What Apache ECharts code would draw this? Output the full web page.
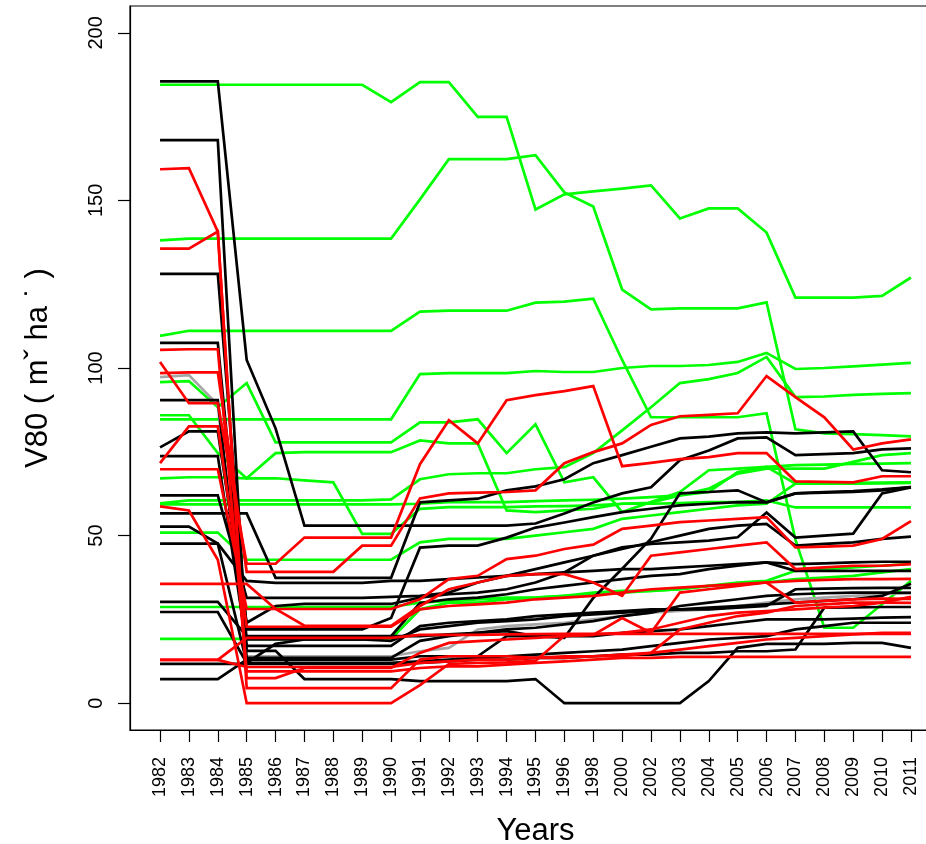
<!DOCTYPE html>
<html>
<head>
<meta charset="utf-8">
<script src="https://cdn.jsdelivr.net/npm/echarts@6/dist/echarts.min.js"></script>
<style>
  html, body { margin: 0; padding: 0; background: #fff; }
  #chart { width: 926px; height: 844px; }
</style>
</head>
<body>
<div id="chart"></div>
<script>
// Survey years (unequally spaced, plotted at equal steps)
const years = ['1982','1983','1984','1985','1986','1987','1988','1989','1990','1991','1992','1993','1994','1995','1996','1998','2000','2002','2003','2004','2005','2006','2007','2008','2009','2010','2011'];
const yTicks = [0, 50, 100, 150, 200];

// Plots without harvest (green)
const green01 = [184.5,184.5,184.5,184.5,184.5,184.5,184.5,184.5,179.3,185.3,185.3,174.9,174.9,147.3,151.8,152.7,153.5,154.5,144.6,147.6,147.6,140.4,121,121,121,121.5,127];
const green02 = [138.1,138.6,138.6,138.6,138.6,138.6,138.6,138.6,138.6,150.3,162.3,162.3,162.3,163.5,152.4,148.2,123.4,117.5,117.8,117.8,117.8,119.6,81.7,80.5,80.3,80,79.6];
const green03 = [109.6,111.1,111.1,111.1,111.1,111.1,111.1,111.1,111.1,116.8,117.1,117.1,117.1,119.5,119.8,120.7,102.4,85.3,85.3,85.3,85.3,86.5,48.8,22.5,22.5,29.5,36.5];
const green04 = [84.7,84.7,84.7,84.7,84.7,84.7,84.7,84.7,84.7,98.2,98.5,98.5,98.5,99.1,98.8,98.8,100,100.6,100.6,100.9,101.8,104.5,99.7,100,100.5,101,101.5];
const green05 = [67.1,67.4,67.4,67.1,67.1,66.5,65.9,50.5,50.5,58,58.5,58.5,58.5,58.7,58.8,59,59.5,59.5,59.7,60,60,60.5,58.4,58.4,58.4,58.4,58.4];
const green06 = [85.9,85.9,74.6,67.1,74.6,74.9,74.9,74.9,74.9,78.4,77.5,77.5,57.5,57,57.5,58,59.5,59.8,62,63,69,70.5,65.5,65.6,65.7,65.8,65.9];
const green07 = [95.8,96.1,88.3,95.5,77.8,77.8,77.8,77.8,77.8,83.8,83.8,84.7,74.6,83.2,65.9,67.4,57,60,63,69.5,70,70.5,71,71.2,71.4,71.5,71.6];
const green08 = [59.6,60.5,60.5,60.5,60.5,60.5,60.5,60.5,60.8,66.8,68.3,68.6,68.6,69.8,70.4,74.6,81.4,88.3,95.5,96.7,98.5,103.3,91.3,91.5,92,92.3,92.5];
const green09 = [59.3,59.3,59.3,59.3,59.3,59.3,59.3,59.3,59.3,59.5,60,60,60,60.3,60.5,60.7,61,61.5,62,64,68.5,70,70,70,72,74,74.6];
const green10 = [50.9,50.9,50.9,42.8,42.8,42.8,42.8,42.8,42.8,48,49,49,49,50,51,52,55,56,57,58,59,59.5,65.5,65.5,65.5,65.6,65.7];
const green11 = [28.7,28.7,28.7,28.7,28.7,28.7,28.7,28.7,28.7,30,30.5,31,31.5,31.5,32,33,33.5,33.5,34,35,36,36.5,39.5,40,40.5,41,41.6];
const green12 = [19.2,19.2,19.2,19.2,19.2,19.2,19.2,19.2,19.2,28,30,30,31,31.5,32,32.5,33,33.5,34,35,35.5,36,37,37.5,38,39,40];

// Reference plot (grey)
const grey01 = [97.3,97.9,89,14,14,14,14,14,14,15.5,16.5,22,23,23.5,24,25,26,27,27.5,28,29,30,31,31.5,32,32.5,33];

// Plots with harvest (black)
const black01 = [185.5,185.5,185.5,102.4,82,53,53,53,53,53,53,53,53,53.6,56.6,59.9,62.6,64.4,72.5,75.4,79,79.3,74,74.3,74.6,75.7,76];
const black02 = [168,168,168,15.6,15.6,7.2,7.2,7.2,7.2,6.6,6.6,6.6,6.6,7.2,0,0,0,0,0,6.6,16.5,17.7,17.7,17.7,18,18,16.5];
const black03 = [128.1,128.1,128.1,22,22,22,22,22,25.4,46.4,47,47,49.4,52.4,53.9,55.5,57,58,59,59.5,60,59.9,62.6,63,63.3,63.8,64.5];
const black04 = [107.5,107.5,107.5,19,19,19,19,19,20,29.9,31,31.5,32.5,34,35,36,37,38,38.5,40,41,42,41.5,41.7,42,42.2,42.2];
const black05 = [90.4,90.4,90.4,13.5,13.5,13.5,13.5,13.5,13.5,18.6,20,21,22,22.5,23.5,24.5,26,27,29,30,31,32,32.5,32.8,33,33,32.9];
const black06 = [76.3,81.1,81.1,24,29,29.6,29.6,29.6,29.6,31.5,32.5,33,34,36,39,44,46.5,47.5,48,48.5,49.5,56.9,49.4,50,50.6,62.6,64.4];
const black07 = [73.7,73.7,73.7,17.1,17.1,17.1,17.1,17.1,17.1,23,24,24.5,25,26,26.5,27,27.5,28,28,28.5,29,29.5,30,30.5,31,32,35.6];
const black08 = [62,62,62,31.4,31.4,31.4,31.4,31.4,31.7,32,33,36,38,40,42,44,46,48,50,52,53,53.5,47,47.5,48,49,49.7];
const black09 = [56.6,56.6,56.6,56.6,37.4,37.4,37.4,37.4,37.4,59.9,60.5,61,63.5,64.7,66.8,71.6,74,76.5,79,79.5,80.5,80.8,80.5,80.8,81.1,69.5,68.9];
const black10 = [52.7,52.7,47.6,36.5,35.9,35.9,35.9,35.9,36.5,36.5,37,37.5,38,38.5,39,39.5,40,40,40.5,41,41.5,42,39.5,39.5,39.5,39.5,39.5];
const black11 = [47.6,47.6,47.6,12,12,12,12,12,12,12.5,13,13.5,14,14.5,15,15.5,16,17,18,19,19.5,20,22,23,24,24,24];
const black12 = [30.2,30.2,30.2,20,20,20,20,20,20,20,20.5,21,21.5,20,20,20,21,21.5,22,23,24,25,25,25,25.2,25.5,25.7];
const black13 = [27.2,27.2,27.2,12,17.7,19,19,19,18.6,22,23,24,24.5,25,26,26.5,27,27.5,28,28,28.5,29,34,34.2,34.3,34.4,34.4];
const black14 = [11.7,11.7,11.7,11.7,11.7,11.7,11.7,11.7,11.7,12,12.5,13,13,13.5,13.5,14,14.5,14.5,15,15,15.5,15.5,16,28.5,28.6,28.7,28.7];
const black15 = [7.2,7.2,7.2,13,13,13,13,13,13,14,14,14,20,20,19.5,31.4,40.1,49.1,62.6,63,63.5,59.9,62.6,62.8,63,63.5,64.5];

// Plots with harvest (red)
const red01 = [159.3,159.6,140.7,7.5,7.5,10.5,10.5,10.5,10.5,15,18,18.5,19,19.5,20,20.5,21,22,24,26,27,27.5,28,28.5,29,30,31.7];
const red02 = [135.6,135.6,140.7,4.5,4.5,4.5,4.5,4.5,4.5,13,14,14,14,13.5,14,14,14.5,15,22,24,26,27,29,29.5,30,30,29.9];
const red03 = [105.4,105.6,105.6,9.5,9.5,9.5,9.5,9.5,9.5,10.5,11,11,11.5,12,12.5,13,13.5,13.5,13.8,13.8,13.8,13.8,13.8,13.8,13.8,13.8,13.8];
const red04 = [101.8,89.5,89.5,41.6,41.6,49.4,49.4,49.4,49.4,71.3,84.4,77.5,90.4,91.9,93.1,94.6,70.7,71.7,72.8,73.4,74.6,74.6,66.2,66,65.9,67.7,67.7];
const red05 = [98.5,98.7,98.7,39.2,39.2,39.2,39.2,47,47,61.1,62.6,62.8,63,63.5,71.6,74.9,77.5,83,85.6,86,86.5,97.6,91.3,85.3,75.7,77.5,78.7];
const red06 = [71.6,82.6,82.6,22.8,22.8,22.8,22.8,22.8,22.8,28,29,29.5,30,31,31.5,32,33,34,34.5,35,35.5,36,30,30.5,31,31.2,31.1];
const red07 = [69.8,69.8,69.8,28.1,28.1,28.1,28.1,28.1,28.1,31,37,38,43,44,46,47.3,52,53,54,54.5,55,55.5,46.5,46.7,47,49,54.3];
const red08 = [58.7,57.5,42.8,0,0,0,0,0,0,5.4,11.7,12,12.2,12.6,20.1,20.4,25.4,21,33,34,35,36,36.5,36.8,37,37,37.1];
const red09 = [35.6,35.6,35.6,35.6,28.1,23.1,23.1,23.1,23.1,29,34,36,38,38.5,38.5,36,32,44,45,46,47,48,40,40.5,41,41,41.5];
const red10 = [12.9,12.9,12.9,19.5,19.5,19.5,19.5,19.5,19.5,20.4,20.4,20.4,20.5,20.6,20.7,20.7,20.7,20.7,20.7,20.7,20.7,20.7,20.7,20.7,20.7,20.7,20.7];
const red11 = [12.9,12.9,12.9,10.8,10.8,10.8,10.8,10.8,10.8,12,12.5,13,13,13.5,13.5,14,14,15,16,17,18,19,19.5,20,20.5,21,21];

const greenLines = [green01, green02, green03, green04, green05, green06, green07, green08, green09, green10, green11, green12];
const greyLines = [grey01];
const blackLines = [black01, black02, black03, black04, black05, black06, black07, black08, black09, black10, black11, black12, black13, black14, black15];
const redLines = [red01, red02, red03, red04, red05, red06, red07, red08, red09, red10, red11];

const FONT = 'Liberation Sans, Arial, Helvetica, sans-serif';
const xIdx = years.map((_, i) => i);

function makeSeries(lines, color) {
  return lines.map(vals => ({
    type: 'line',
    data: vals.map((v, i) => [i, v]),
    showSymbol: false,
    symbol: 'none',
    silent: true,
    lineStyle: { color: color, width: 2.7, join: 'miter' },
    itemStyle: { color: color },
    animation: false
  }));
}

const chart = echarts.init(document.getElementById('chart'), null, { renderer: 'canvas' });
chart.setOption({
  backgroundColor: '#ffffff',
  animation: false,
  grid: {
    left: 130, width: 811, top: 6, height: 724,
    outerBoundsMode: 'none',
    containLabel: false,
    show: true, borderColor: '#000', borderWidth: 1.2, backgroundColor: 'transparent'
  },
  xAxis: {
    type: 'value',
    min: -1.04, max: 27.04,
    splitLine: { show: false },
    axisLine: { show: true, onZero: false, lineStyle: { color: '#000', width: 1.2 } },
    axisTick: { show: true, length: 12, customValues: xIdx, lineStyle: { color: '#000', width: 1.2 } },
    axisLabel: {
      customValues: xIdx,
      formatter: v => years[Math.round(v)],
      rotate: 90, fontSize: 18, margin: 27, color: '#000', fontFamily: FONT
    },
    name: 'Years', nameLocation: 'middle', nameGap: 86,
    nameTextStyle: { fontSize: 31, color: '#000', fontFamily: FONT, verticalAlign: 'top' }
  },
  yAxis: {
    type: 'value',
    min: -8, max: 208,
    splitLine: { show: false },
    axisLine: { show: true, onZero: false, lineStyle: { color: '#000', width: 1.2 } },
    axisTick: { show: true, length: 12, customValues: yTicks, lineStyle: { color: '#000', width: 1.2 } },
    axisLabel: {
      customValues: yTicks,
      rotate: 90, fontSize: 20, margin: 24, color: '#000', fontFamily: FONT
    },
    name: 'V80 ( mˇ ha ˙ )', nameLocation: 'middle', nameGap: 76,
    nameTextStyle: { fontSize: 31, color: '#000', fontFamily: FONT }
  },
  series: [].concat(
    makeSeries(greenLines, '#00ff00'),
    makeSeries(greyLines, '#a6a6a6'),
    makeSeries(blackLines, '#000000'),
    makeSeries(redLines, '#ff0000')
  )
});
</script>
</body>
</html>
